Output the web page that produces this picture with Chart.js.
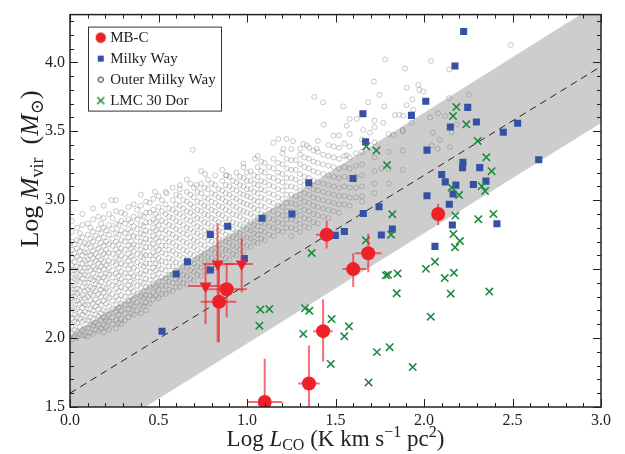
<!DOCTYPE html>
<html>
  <head>
    <script src="https://cdn.jsdelivr.net/npm/chart.js"></script>
    <style>
      body { margin: 0; background: #fff; }
    </style>
  </head>
  <body>
    <canvas id="myChart" width="625" height="454"></canvas>
    <script>
      // MB-C clouds (circles = detections, down triangles = limits)
      const mbX = [1.10, 1.35, 1.43, 1.45, 1.60, 1.685, 2.08, 0.842, 0.885, 0.766, 0.834, 0.97];
      const mbY = [1.536, 1.67, 2.05, 2.75, 2.50, 2.615, 2.90, 2.263, 2.354, 2.378, 2.538, 2.538];
      const mbXLo = [1.00, 1.29, 1.375, 1.39, 1.54, 1.61, 2.05, 0.738, 0.75, 0.668, 0.75, 0.885];
      const mbXHi = [1.20, 1.41, 1.484, 1.49, 1.676, 1.76, 2.11, 0.94, 1.00, 0.885, 0.93, 1.034];
      const mbYLo = [1.25, 1.30, 1.83, 2.65, 2.37, 2.478, 2.82, 1.97, 2.15, 2.10, 1.97, 2.33];
      const mbYHi = [1.85, 1.946, 2.28, 2.85, 2.615, 2.757, 2.975, 2.545, 2.545, 2.53, 2.833, 2.73];
      const mbShape = ['circle', 'circle', 'circle', 'circle', 'circle', 'circle', 'circle', 'circle', 'circle', 'triangle', 'triangle', 'triangle'];

      // Milky Way clouds
      const mwX = [2.224, 2.175, 2.01, 1.655, 1.929, 2.247, 2.296, 2.149, 2.529, 2.448, 2.648, 1.67, 2.017, 2.22, 2.218,
                   2.315, 2.10, 2.35, 2.12, 2.18, 2.279, 2.164, 2.017, 1.599, 1.349, 2.143, 1.746, 1.657, 2.16, 1.821,
                   1.55, 1.499, 1.759, 2.062, 2.412, 0.52, 0.60, 0.663, 0.793, 0.793, 0.891, 0.985, 1.085, 1.254];
      const mwY = [4.224, 3.973, 3.718, 3.627, 3.615, 3.673, 3.567, 3.531, 3.558, 3.493, 3.293, 3.423, 3.363, 3.275, 3.236,
                   3.236, 3.186, 3.138, 3.133, 3.109, 3.114, 3.045, 3.032, 3.157, 3.126, 2.97, 2.953, 2.903, 2.82, 2.79,
                   2.773, 2.745, 2.747, 2.665, 2.829, 2.049, 2.464, 2.553, 2.493, 2.752, 2.811, 2.577, 2.869, 2.90];

      // LMC 30 Dor clumps
      const lmcX = [2.183, 2.164, 2.239, 2.303, 1.674, 1.731, 1.791, 2.352, 2.382, 2.156, 2.198, 2.326, 2.345, 1.821, 1.814,
                    1.672, 1.365, 2.177, 2.307, 2.392, 2.166, 2.203, 2.175, 2.062, 2.011, 2.117, 2.169, 2.151, 2.369, 1.785,
                    1.797, 1.851, 1.846, 2.038, 1.478, 1.576, 1.55, 1.473, 1.734, 1.806, 1.936, 1.687, 1.328, 1.352, 1.318,
                    1.075, 1.126, 1.07];
      const lmcY = [3.675, 3.61, 3.55, 3.43, 3.39, 3.361, 3.255, 3.311, 3.21, 3.092, 3.037, 3.102, 3.066, 2.898, 2.75,
                    2.709, 2.617, 2.888, 2.862, 2.90, 2.754, 2.704, 2.658, 2.553, 2.502, 2.435, 2.473, 2.322, 2.337, 2.455,
                    2.459, 2.469, 2.325, 2.155, 2.138, 2.085, 2.013, 1.812, 1.898, 1.934, 1.79, 1.678, 2.217, 2.198, 2.03,
                    2.207, 2.21, 2.09];

      // Outer Milky Way clouds: columns of Log L_CO with their Log M_vir values
      const omwColX = [0.01, 0.04, 0.07, 0.10, 0.13, 0.16, 0.19, 0.22, 0.26, 0.29, 0.33, 0.36, 0.40, 0.43, 0.47, 0.50,
                       0.54, 0.58, 0.62, 0.66, 0.70, 0.74, 0.78, 0.82, 0.86, 0.90, 0.94, 0.98, 1.02, 1.06, 1.10, 1.15,
                       1.20, 1.25, 1.30, 1.35, 1.40, 1.46, 1.52, 1.58, 1.65, 1.72, 1.80, 1.88];
      const omwColY = [
        [1.99, 2.03, 2.08, 2.14, 2.18, 2.23, 2.29, 2.33, 2.38, 2.44, 2.49, 2.53, 2.58, 2.64, 2.70, 2.77, 2.85],
        [2.00, 2.05, 2.11, 2.15, 2.21, 2.27, 2.32, 2.36, 2.42, 2.47, 2.52, 2.59, 2.65, 2.71, 2.80],
        [2.02, 2.06, 2.12, 2.17, 2.22, 2.26, 2.31, 2.37, 2.43, 2.48, 2.54, 2.60, 2.66, 2.73, 2.82, 2.90],
        [2.01, 2.07, 2.13, 2.18, 2.24, 2.30, 2.35, 2.40, 2.45, 2.51, 2.57, 2.62, 2.68, 2.75, 2.83],
        [2.03, 2.09, 2.14, 2.20, 2.25, 2.31, 2.36, 2.42, 2.47, 2.52, 2.58, 2.63, 2.70, 2.77, 2.86, 2.94],
        [2.05, 2.10, 2.16, 2.21, 2.26, 2.32, 2.38, 2.43, 2.49, 2.54, 2.59, 2.65, 2.72, 2.79, 2.88],
        [2.04, 2.09, 2.15, 2.20, 2.27, 2.33, 2.37, 2.44, 2.50, 2.55, 2.61, 2.67, 2.73, 2.80, 2.87, 2.96],
        [2.06, 2.12, 2.17, 2.23, 2.29, 2.34, 2.40, 2.46, 2.51, 2.56, 2.62, 2.68, 2.75, 2.82, 2.90],
        [2.07, 2.13, 2.19, 2.24, 2.30, 2.36, 2.41, 2.47, 2.53, 2.58, 2.64, 2.70, 2.76, 2.83, 2.92, 3.00],
        [2.10, 2.14, 2.20, 2.25, 2.31, 2.37, 2.43, 2.48, 2.54, 2.60, 2.65, 2.71, 2.78, 2.85, 2.91],
        [2.15, 2.21, 2.27, 2.33, 2.38, 2.44, 2.50, 2.56, 2.61, 2.67, 2.73, 2.79, 2.86, 2.95],
        [2.17, 2.23, 2.28, 2.34, 2.40, 2.45, 2.51, 2.57, 2.63, 2.68, 2.74, 2.81, 2.88, 2.97],
        [2.18, 2.24, 2.30, 2.36, 2.41, 2.47, 2.53, 2.59, 2.64, 2.70, 2.76, 2.82, 2.89, 2.96, 3.04],
        [2.20, 2.26, 2.31, 2.37, 2.43, 2.49, 2.54, 2.60, 2.66, 2.72, 2.78, 2.84, 2.91, 2.99],
        [2.28, 2.33, 2.39, 2.45, 2.51, 2.57, 2.62, 2.68, 2.74, 2.80, 2.86, 2.93, 3.01],
        [2.29, 2.35, 2.41, 2.47, 2.53, 2.58, 2.64, 2.70, 2.76, 2.82, 2.88, 2.95, 3.03],
        [2.32, 2.38, 2.43, 2.49, 2.55, 2.61, 2.67, 2.72, 2.78, 2.84, 2.90, 2.97, 3.06],
        [2.34, 2.40, 2.46, 2.52, 2.57, 2.63, 2.69, 2.75, 2.81, 2.87, 2.93, 3.00, 3.09],
        [2.37, 2.42, 2.48, 2.54, 2.60, 2.66, 2.72, 2.78, 2.84, 2.90, 2.96, 3.03, 3.11],
        [2.39, 2.45, 2.51, 2.57, 2.63, 2.69, 2.75, 2.80, 2.86, 2.92, 2.99, 3.06, 3.15],
        [2.42, 2.48, 2.54, 2.60, 2.66, 2.71, 2.77, 2.83, 2.89, 2.95, 3.02, 3.09],
        [2.45, 2.51, 2.57, 2.62, 2.68, 2.74, 2.80, 2.86, 2.92, 2.98, 3.05, 3.12, 3.21],
        [2.48, 2.54, 2.59, 2.65, 2.71, 2.77, 2.83, 2.89, 2.95, 3.01, 3.08, 3.15],
        [2.51, 2.56, 2.62, 2.68, 2.74, 2.80, 2.86, 2.92, 2.98, 3.04, 3.11, 3.18],
        [2.54, 2.60, 2.65, 2.71, 2.77, 2.83, 2.89, 2.95, 3.01, 3.07, 3.14, 3.22],
        [2.57, 2.63, 2.69, 2.74, 2.80, 2.86, 2.92, 2.98, 3.04, 3.10, 3.17],
        [2.60, 2.66, 2.72, 2.77, 2.83, 2.89, 2.95, 3.01, 3.07, 3.13, 3.20],
        [2.63, 2.69, 2.75, 2.81, 2.86, 2.92, 2.98, 3.04, 3.10, 3.16, 3.24],
        [2.66, 2.72, 2.78, 2.84, 2.90, 2.96, 3.02, 3.08, 3.14, 3.21],
        [2.69, 2.75, 2.81, 2.87, 2.93, 2.99, 3.05, 3.11, 3.17, 3.24, 3.32],
        [2.71, 2.77, 2.83, 2.89, 2.95, 3.01, 3.07, 3.13, 3.20, 3.27],
        [2.74, 2.80, 2.86, 2.92, 2.98, 3.04, 3.10, 3.16, 3.23, 3.30],
        [2.77, 2.83, 2.89, 2.95, 3.01, 3.07, 3.13, 3.19, 3.26, 3.34],
        [2.74, 2.80, 2.86, 2.92, 2.98, 3.04, 3.10, 3.16, 3.22, 3.29, 3.37],
        [2.77, 2.83, 2.89, 2.95, 3.01, 3.07, 3.13, 3.19, 3.26, 3.33],
        [2.80, 2.86, 2.92, 2.98, 3.04, 3.10, 3.16, 3.23, 3.30, 3.38],
        [2.83, 2.89, 2.95, 3.01, 3.07, 3.13, 3.20, 3.27, 3.35, 3.43],
        [2.87, 2.93, 2.99, 3.05, 3.11, 3.18, 3.25, 3.32, 3.40],
        [2.91, 2.97, 3.03, 3.09, 3.16, 3.23, 3.30, 3.38, 3.47],
        [2.96, 3.02, 3.09, 3.16, 3.23, 3.31, 3.39, 3.48],
        [2.99, 3.03, 3.10, 3.18, 3.26, 3.35, 3.44],
        [3.05, 3.12, 3.21, 3.31, 3.42, 3.53],
        [3.12, 3.23, 3.35, 3.48],
        [3.22, 3.36, 3.50]
      ];
      // second, interleaved set of columns in the dense core of the cloud
      const omwCol2X = [0.025, 0.055, 0.085, 0.115, 0.145, 0.175, 0.205, 0.24, 0.275, 0.31, 0.345, 0.38, 0.415, 0.45,
                        0.485, 0.52, 0.56, 0.60, 0.64, 0.68, 0.72, 0.76, 0.80, 0.84, 0.88, 0.92, 0.96, 1.00, 1.04, 1.08,
                        1.125, 1.175, 1.225, 1.275, 1.325, 1.375, 1.43, 1.49, 1.55, 1.615];
      const omwCol2Y = [
        [2.01, 2.06, 2.12, 2.17, 2.22, 2.27, 2.33, 2.38, 2.43, 2.49, 2.55, 2.61, 2.68],
        [2.03, 2.08, 2.14, 2.19, 2.25, 2.30, 2.35, 2.41, 2.46, 2.51, 2.57, 2.63, 2.70, 2.76],
        [2.02, 2.07, 2.13, 2.19, 2.24, 2.29, 2.34, 2.40, 2.46, 2.51, 2.56, 2.62, 2.69],
        [2.04, 2.10, 2.15, 2.21, 2.27, 2.32, 2.37, 2.43, 2.49, 2.54, 2.60, 2.66, 2.72, 2.80],
        [2.06, 2.11, 2.17, 2.23, 2.28, 2.34, 2.39, 2.44, 2.50, 2.56, 2.61, 2.67, 2.74],
        [2.07, 2.13, 2.18, 2.24, 2.30, 2.35, 2.41, 2.46, 2.52, 2.57, 2.63, 2.69, 2.76, 2.83],
        [2.08, 2.13, 2.19, 2.25, 2.30, 2.36, 2.42, 2.47, 2.53, 2.59, 2.64, 2.70, 2.78],
        [2.10, 2.15, 2.21, 2.27, 2.32, 2.38, 2.44, 2.49, 2.55, 2.61, 2.67, 2.72, 2.79, 2.87],
        [2.11, 2.17, 2.22, 2.28, 2.34, 2.40, 2.45, 2.51, 2.57, 2.62, 2.68, 2.75, 2.82],
        [2.13, 2.18, 2.24, 2.30, 2.36, 2.41, 2.47, 2.53, 2.58, 2.64, 2.70, 2.76, 2.83, 2.90],
        [2.18, 2.24, 2.30, 2.36, 2.41, 2.47, 2.53, 2.59, 2.65, 2.70, 2.77, 2.84],
        [2.20, 2.26, 2.32, 2.38, 2.44, 2.49, 2.55, 2.61, 2.67, 2.73, 2.79, 2.86, 2.93],
        [2.23, 2.29, 2.34, 2.40, 2.46, 2.52, 2.58, 2.63, 2.69, 2.75, 2.81, 2.88],
        [2.25, 2.31, 2.37, 2.42, 2.48, 2.54, 2.60, 2.66, 2.71, 2.77, 2.84, 2.91, 2.98],
        [2.31, 2.37, 2.43, 2.49, 2.54, 2.60, 2.66, 2.72, 2.78, 2.84, 2.90],
        [2.32, 2.38, 2.44, 2.50, 2.56, 2.62, 2.67, 2.73, 2.79, 2.85, 2.92, 3.00],
        [2.35, 2.41, 2.46, 2.52, 2.58, 2.64, 2.70, 2.76, 2.82, 2.88, 2.94],
        [2.37, 2.43, 2.49, 2.55, 2.61, 2.67, 2.73, 2.79, 2.85, 2.91, 2.97, 3.04],
        [2.40, 2.46, 2.52, 2.58, 2.64, 2.70, 2.76, 2.82, 2.88, 2.94, 3.00],
        [2.43, 2.49, 2.55, 2.61, 2.67, 2.73, 2.79, 2.85, 2.91, 2.97, 3.04, 3.12],
        [2.46, 2.52, 2.58, 2.64, 2.70, 2.76, 2.81, 2.87, 2.93, 2.99, 3.06],
        [2.49, 2.55, 2.61, 2.67, 2.73, 2.78, 2.84, 2.90, 2.96, 3.02, 3.09],
        [2.52, 2.58, 2.64, 2.70, 2.75, 2.81, 2.87, 2.93, 2.99, 3.05, 3.12],
        [2.55, 2.61, 2.67, 2.72, 2.78, 2.84, 2.90, 2.96, 3.02, 3.08],
        [2.58, 2.64, 2.70, 2.75, 2.81, 2.87, 2.93, 2.99, 3.05, 3.11, 3.18],
        [2.61, 2.67, 2.73, 2.79, 2.84, 2.90, 2.96, 3.02, 3.08, 3.14],
        [2.64, 2.70, 2.76, 2.82, 2.88, 2.93, 2.99, 3.05, 3.11, 3.17],
        [2.67, 2.73, 2.79, 2.85, 2.91, 2.97, 3.03, 3.08, 3.14, 3.20],
        [2.70, 2.76, 2.82, 2.88, 2.94, 3.00, 3.06, 3.12, 3.18],
        [2.72, 2.78, 2.84, 2.90, 2.96, 3.02, 3.08, 3.14, 3.21, 3.28],
        [2.75, 2.81, 2.87, 2.93, 2.99, 3.05, 3.11, 3.17, 3.24],
        [2.78, 2.84, 2.90, 2.96, 3.02, 3.08, 3.14, 3.20, 3.27],
        [2.80, 2.86, 2.92, 2.98, 3.04, 3.10, 3.16, 3.23, 3.30],
        [2.79, 2.85, 2.91, 2.97, 3.03, 3.09, 3.15, 3.22, 3.29],
        [2.81, 2.87, 2.93, 2.99, 3.05, 3.11, 3.17, 3.24, 3.31],
        [2.84, 2.90, 2.96, 3.02, 3.08, 3.14, 3.21, 3.28, 3.36],
        [2.88, 2.94, 3.00, 3.06, 3.12, 3.19, 3.26, 3.33],
        [2.92, 2.98, 3.04, 3.10, 3.17, 3.24, 3.31, 3.39],
        [2.97, 3.03, 3.10, 3.17, 3.24, 3.32, 3.41],
        [3.02, 3.09, 3.17, 3.25, 3.34]
      ];
      // scattered Outer Milky Way clouds above the main cloud
      const omwExtraX = [1.38, 1.43, 1.544, 0.693, 1.78, 2.04, 1.893, 2.143, 1.717, 1.748, 1.902, 1.968, 1.974, 1.996, 1.934,
                         1.902, 1.776, 1.684, 1.62, 1.836, 2.254, 2.141, 2.119, 2.185, 1.433, 2.49, 1.149, 1.045, 1.205, 1.26,
                         1.318, 0.48, 0.546, 0.62, 0.763, 0.98, 0.235, 1.86, 1.883, 1.94, 1.93, 2.034, 2.08, 2.156, 2.09,
                         2.05, 2.147, 2.077, 2.043, 1.76, 1.88, 1.827, 1.77, 1.72, 1.657, 1.695, 1.224, 1.177, 1.337, 1.30,
                         0.885, 0.716, 1.58, 1.563, 1.488, 1.394, 1.563];
      const omwExtraY = [3.75, 3.71, 3.68, 3.365, 4.02, 4.01, 3.955, 3.948, 3.86, 3.764, 3.817, 3.836, 3.80, 3.788, 3.732,
                         3.689, 3.68, 3.71, 3.589, 3.617, 3.764, 3.74, 3.61, 3.55, 3.548, 4.126, 3.416, 3.30, 3.372, 3.428,
                         3.408, 3.06, 3.05, 3.08, 3.19, 3.265, 3.00, 3.62, 3.613, 3.656, 3.56, 3.60, 3.63, 3.49, 3.44,
                         3.49, 3.385, 3.373, 3.397, 3.23, 3.51, 3.473, 3.56, 3.577, 3.51, 3.49, 3.444, 3.444, 3.397, 3.373,
                         3.18, 3.11, 3.589, 3.54, 3.469, 3.373, 3.325];

      // best fit line and its scatter band
      const fitX = [0, 3];
      const fitY = [1.60, 3.97];
      const bandHiY = [2.02, 4.44];
      const bandLoY = [1.16, 3.56];

      // axis ticks
      const xTicks = [0.0, 0.5, 1.0, 1.5, 2.0, 2.5, 3.0];
      const yTicks = [1.5, 2.0, 2.5, 3.0, 3.5, 4.0];

      const red = '#ee2129';
      const blue = '#3451a3';
      const green = '#1d8c40';
      const serif = "'Liberation Serif', 'DejaVu Serif', serif";

      const pts = (xs, ys) => xs.map((x, i) => ({x: x, y: ys[i]}));
      const omwPoints = [];
      omwColX.forEach((x, i) => omwColY[i].forEach(y => omwPoints.push({x: x, y: y})));
      omwCol2X.forEach((x, i) => omwCol2Y[i].forEach(y => omwPoints.push({x: x, y: y})));
      omwExtraX.forEach((x, i) => omwPoints.push({x: x, y: omwExtraY[i]}));

      // small canvases used as legend markers
      function icon(w, h, draw) {
        const c = document.createElement('canvas');
        c.width = w; c.height = h;
        draw(c.getContext('2d'));
        return c;
      }
      const legendIcons = [
        icon(12, 12, g => { g.fillStyle = red; g.beginPath(); g.arc(6, 6, 5.2, 0, Math.PI * 2); g.fill(); }),
        icon(8, 8, g => { g.fillStyle = blue; g.fillRect(1, 1, 6, 6); }),
        icon(8, 8, g => { g.strokeStyle = '#222'; g.lineWidth = 1; g.beginPath(); g.arc(4, 4, 2.6, 0, Math.PI * 2); g.stroke(); }),
        icon(10, 10, g => { g.strokeStyle = green; g.lineWidth = 1.6; g.beginPath(); g.moveTo(1.5, 1.5); g.lineTo(8.5, 8.5); g.moveTo(8.5, 1.5); g.lineTo(1.5, 8.5); g.stroke(); })
      ];

      // error bars for MB-C, drawn under its markers
      const errorBars = {
        id: 'errorBars',
        beforeDatasetDraw(chart, args) {
          if (args.index !== 0) return;
          const {ctx, chartArea: a, scales: {x, y}} = chart;
          ctx.save();
          ctx.beginPath();
          ctx.rect(a.left, a.top, a.width, a.height);
          ctx.clip();
          ctx.strokeStyle = 'rgba(238, 33, 41, 0.65)';
          ctx.lineWidth = 2;
          mbX.forEach((v, i) => {
            const px = x.getPixelForValue(v), py = y.getPixelForValue(mbY[i]);
            ctx.beginPath();
            ctx.moveTo(x.getPixelForValue(mbXLo[i]), py);
            ctx.lineTo(x.getPixelForValue(mbXHi[i]), py);
            ctx.moveTo(px, y.getPixelForValue(mbYLo[i]));
            ctx.lineTo(px, y.getPixelForValue(mbYHi[i]));
            ctx.stroke();
          });
          ctx.restore();
        }
      };

      // inward ticks on all sides, frame, legend box and axis titles
      const frame = {
        id: 'frame',
        afterLayout(chart) {
          const lg = chart.legend, a = chart.chartArea;
          lg.left = a.left + 22.7;
          lg.top = a.top + 9.5;
          lg.width = 130;
          lg.height = 100;
          lg.right = lg.left + lg.width;
          lg.bottom = lg.top + lg.height;
        },
        afterDraw(chart) {
          const {ctx, chartArea: a, scales: {x, y}} = chart;
          ctx.save();
          ctx.strokeStyle = '#222';
          ctx.lineWidth = 1;
          ctx.beginPath();
          for (let i = 0; i <= 30; i++) {
            const px = Math.round(x.getPixelForValue(i / 10)) + 0.5;
            const len = i % 5 === 0 ? 8 : 4;
            ctx.moveTo(px, a.bottom); ctx.lineTo(px, a.bottom - len);
            ctx.moveTo(px, a.top); ctx.lineTo(px, a.top + len);
          }
          for (let i = 15; i <= 43; i++) {
            const py = Math.round(y.getPixelForValue(i / 10)) + 0.5;
            const len = i % 5 === 0 ? 8 : 4;
            ctx.moveTo(a.left, py); ctx.lineTo(a.left + len, py);
            ctx.moveTo(a.right, py); ctx.lineTo(a.right - len, py);
          }
          ctx.stroke();
          ctx.lineWidth = 1.5;
          ctx.strokeRect(a.left, a.top, a.width, a.height);
          ctx.lineWidth = 1;
          ctx.strokeStyle = '#333';
          ctx.strokeRect(a.left + 18.5, a.top + 12.5, 133, 84);

          ctx.fillStyle = '#222';
          ctx.textBaseline = 'alphabetic';
          ctx.textAlign = 'left';
          const big = '23px ' + serif, bigIt = 'italic 23px ' + serif, small = '16px ' + serif;
          drawRich(ctx, [
            {t: 'Log ', f: big}, {t: 'L', f: bigIt}, {t: 'CO', f: small, dy: 4},
            {t: ' (K km s', f: big}, {t: '\u22121', f: small, dy: -9},
            {t: ' pc', f: big}, {t: '2', f: small, dy: -9}, {t: ')', f: big}
          ], (a.left + a.right) / 2, 446);
          const bigY = '26px ' + serif, bigYIt = 'italic 26px ' + serif, smallY = '18px ' + serif;
          ctx.translate(38, 169);
          ctx.rotate(-Math.PI / 2);
          drawRich(ctx, [
            {t: 'Log ', f: bigY}, {t: 'M', f: bigYIt}, {t: 'vir', f: smallY, dy: 5},
            {t: '  (', f: bigY}, {t: 'M', f: bigYIt}, {t: '\u2299', f: smallY, dy: 5}, {t: ')', f: bigY}
          ], 0, 0);
          ctx.restore();
        }
      };

      function drawRich(ctx, parts, cx, cy) {
        let w = 0;
        parts.forEach(p => { ctx.font = p.f; w += ctx.measureText(p.t).width; });
        let x = cx - w / 2;
        parts.forEach(p => {
          ctx.font = p.f;
          ctx.fillText(p.t, x, cy + (p.dy || 0));
          x += ctx.measureText(p.t).width;
        });
      }

      const chart = new Chart(document.getElementById('myChart'), {
        type: 'scatter',
        data: {
          datasets: [
            {
              label: 'MB-C',
              data: pts(mbX, mbY),
              pointStyle: mbShape,
              pointRotation: mbShape.map(s => s === 'triangle' ? 180 : 0),
              pointRadius: 7,
              backgroundColor: red,
              borderColor: red,
              borderWidth: 0,
              order: 0
            },
            {
              label: 'Milky Way',
              data: pts(mwX, mwY),
              pointStyle: 'rect',
              pointRadius: 5,
              backgroundColor: blue,
              borderColor: blue,
              borderWidth: 0,
              order: 2
            },
            {
              label: 'Outer Milky Way',
              data: omwPoints,
              pointStyle: 'circle',
              pointRadius: 2.5,
              backgroundColor: 'rgba(0,0,0,0)',
              borderColor: 'rgba(120,120,120,0.5)',
              borderWidth: 0.8,
              order: 4
            },
            {
              label: 'LMC 30 Dor',
              data: pts(lmcX, lmcY),
              pointStyle: 'crossRot',
              pointRadius: 5.2,
              borderColor: green,
              borderWidth: 1.6,
              order: 1
            },
            {
              label: 'fit',
              type: 'line',
              data: pts(fitX, fitY),
              borderColor: '#222',
              borderWidth: 1,
              borderDash: [7, 5],
              pointRadius: 0,
              fill: false,
              order: 3
            },
            {
              label: 'bandHi',
              type: 'line',
              data: pts(fitX, bandHiY),
              borderWidth: 0,
              borderColor: 'rgba(0,0,0,0)',
              backgroundColor: '#cdcdcd',
              pointRadius: 0,
              fill: '+1',
              order: 6
            },
            {
              label: 'bandLo',
              type: 'line',
              data: pts(fitX, bandLoY),
              borderWidth: 0,
              borderColor: 'rgba(0,0,0,0)',
              pointRadius: 0,
              fill: false,
              order: 7
            }
          ]
        },
        options: {
          responsive: false,
          animation: false,
          layout: { padding: { left: 0, right: 24, top: 12, bottom: 0 } },
          scales: {
            x: {
              type: 'linear',
              min: 0,
              max: 3,
              grid: { display: false, drawTicks: false },
              border: { display: false },
              afterBuildTicks: s => { s.ticks = xTicks.map(v => ({value: v})); },
              afterFit: s => { s.height = 47; },
              ticks: {
                padding: 4,
                color: '#222',
                font: { family: serif, size: 16 },
                callback: v => v.toFixed(1)
              }
            },
            y: {
              type: 'linear',
              min: 1.5,
              max: 4.346,
              grid: { display: false, drawTicks: false },
              border: { display: false },
              afterBuildTicks: s => { s.ticks = yTicks.map(v => ({value: v})); },
              afterFit: s => { s.width = 70; },
              ticks: {
                padding: 5,
                color: '#222',
                font: { family: serif, size: 16 },
                callback: v => v.toFixed(1)
              }
            }
          },
          plugins: {
            tooltip: { enabled: false },
            legend: {
              position: 'chartArea',
              align: 'start',
              labels: {
                usePointStyle: true,
                boxWidth: 4,
                boxHeight: 4,
                padding: 6,
                color: '#222',
                font: { family: serif, size: 15 },
                filter: item => item.datasetIndex < 4,
                sort: (p, q) => p.datasetIndex - q.datasetIndex,
                generateLabels: c => Chart.defaults.plugins.legend.labels.generateLabels(c)
                  .map(l => Object.assign(l, {pointStyle: legendIcons[l.datasetIndex]}))
              }
            }
          }
        },
        plugins: [errorBars, frame]
      });
    </script>
  </body>
</html>
